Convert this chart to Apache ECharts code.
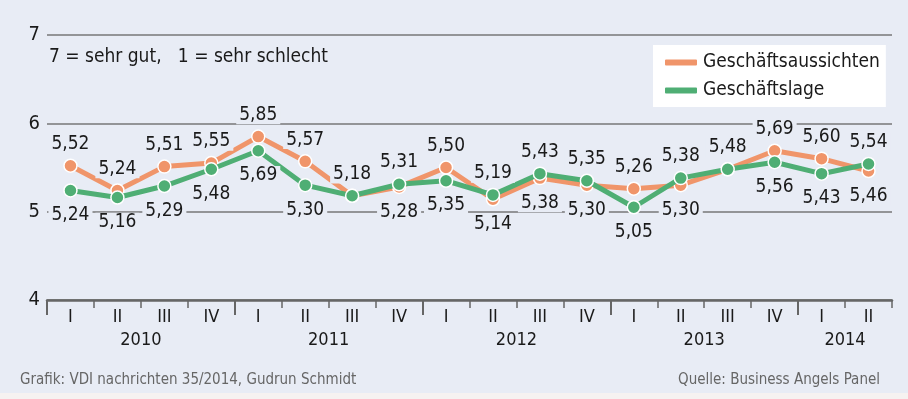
<!DOCTYPE html>
<html><head><meta charset="utf-8">
<script src="https://cdn.jsdelivr.net/npm/echarts@6/dist/echarts.min.js"></script>
<style>html,body{margin:0;padding:0;background:#e8ecf5}#c{width:908px;height:399px}</style>
</head><body><div id="c"></div>
<script>
const quarterLabels = ['I','II','III','IV','I','II','III','IV','I','II','III','IV','I','II','III','IV','I','II'];
const years = ['2010','2011','2012','2013','2014'];
const quartersPerYear = [4,4,4,4,2];
const aussichten = [5.52,5.24,5.51,5.55,5.85,5.57,5.18,5.28,5.50,5.14,5.38,5.30,5.26,5.30,5.48,5.69,5.60,5.46];
const lage = [5.24,5.16,5.29,5.48,5.69,5.30,5.18,5.31,5.35,5.19,5.43,5.35,5.05,5.38,5.48,5.56,5.43,5.54];
const yTicks = [4,5,6,7];

const FONT = "'Liberation Sans Narrow','DejaVu Sans Condensed',sans-serif";
const BG = '#e8ecf5';
const ORANGE = '#f0956a', GREEN = '#4fae74';
const fmt = v => v.toFixed(2).replace('.', ',');

const yearBounds = [0], yearCenters = [];
quartersPerYear.forEach((n,i)=>{ yearCenters.push(yearBounds[i] + n/2); yearBounds.push(yearBounds[i]+n); });

function mk(arr, other, isTopSeries){
  return arr.map((v,i)=>{
    const o = other[i];
    let show = true, pos;
    if (v === o) { show = isTopSeries; pos = 'top'; }
    else pos = v > o ? 'top' : 'bottom';
    return {value: v, label: {show, position: pos, distance: pos==='top'?5:8}};
  });
}

const chart = echarts.init(document.getElementById('c'));
chart.setOption({
  backgroundColor: BG,
  animation: false,
  textStyle: {fontFamily: FONT},
  title: {
    text: '7 = sehr gut,   1 = sehr schlecht',
    left: 44, top: 43,
    textStyle: {fontFamily: FONT, fontSize: 19, fontWeight: 'normal', color: '#1a1a1a'}
  },
  legend: {
    orient: 'vertical', left: 653, top: 45,
    backgroundColor: '#ffffff', padding: [8, 6, 7, 10], itemGap: 9,
    itemWidth: 34, itemHeight: 8, icon: 'roundRect',
    textStyle: {fontFamily: FONT, fontSize: 19, color: '#1a1a1a', padding: [0,0,0,0]},
    data: ['Geschäftsaussichten', 'Geschäftslage']
  },
  grid: {left: 47, right: 16, top: 35, bottom: 99},
  xAxis: [{
    type: 'category', data: quarterLabels, boundaryGap: true,
    axisLine: {show: true, lineStyle: {color: '#666', width: 2.5}},
    axisTick: {show: true, interval: 0, length: 8, lineStyle: {color: '#666', width: 1.5}},
    axisLabel: {interval: 0, margin: 8, fontFamily: FONT, fontSize: 18, color: '#1a1a1a'}
  }, {
    type: 'value', position: 'bottom', min: 0, max: quarterLabels.length,
    axisLine: {show: false}, splitLine: {show: false},
    axisTick: {show: true, customValues: yearBounds.slice(0, -1), length: 15, lineStyle: {color: '#666', width: 2}},
    axisLabel: {show: true, customValues: yearCenters, margin: 31, fontFamily: FONT, fontSize: 18, color: '#1a1a1a',
      formatter: v => years[yearCenters.indexOf(v)]}
  }],
  yAxis: {
    type: 'value', min: yTicks[0], max: yTicks[yTicks.length-1], interval: 1,
    axisLine: {show: false}, axisTick: {show: false},
    axisLabel: {fontFamily: FONT, fontSize: 20, color: '#1a1a1a', margin: 7},
    splitLine: {show: true, lineStyle: {color: '#777', width: 1.5}}
  },
  series: [{
    name: 'Geschäftsaussichten', type: 'line', data: mk(aussichten, lage, false),
    color: ORANGE, lineStyle: {width: 5, color: ORANGE},
    symbol: 'circle', symbolSize: 13,
    itemStyle: {color: ORANGE, borderColor: '#fff', borderWidth: 1.5},
    label: {fontFamily: FONT, fontSize: 19, color: '#1a1a1a', formatter: p => fmt(p.value),
      backgroundColor: BG, padding: [0, 3]},
    z: 2
  }, {
    name: 'Geschäftslage', type: 'line', data: mk(lage, aussichten, true),
    color: GREEN, lineStyle: {width: 5, color: GREEN},
    symbol: 'circle', symbolSize: 13,
    itemStyle: {color: GREEN, borderColor: '#fff', borderWidth: 1.5},
    label: {fontFamily: FONT, fontSize: 19, color: '#1a1a1a', formatter: p => fmt(p.value),
      backgroundColor: BG, padding: [0, 3]},
    z: 3
  }],
  graphic: [
    {type: 'text', left: 20, top: 373, style: {text: 'Grafik: VDI nachrichten 35/2014, Gudrun Schmidt', fill: '#666', font: "15px 'Liberation Sans Narrow','DejaVu Sans Condensed',sans-serif"}},
    {type: 'text', right: 28, top: 373, style: {text: 'Quelle: Business Angels Panel', fill: '#666', font: "15px 'Liberation Sans Narrow','DejaVu Sans Condensed',sans-serif"}},
    {type: 'rect', left: 0, top: 393, shape: {width: 908, height: 6}, style: {fill: '#f6f2f1'}}
  ]
});
</script></body></html>
